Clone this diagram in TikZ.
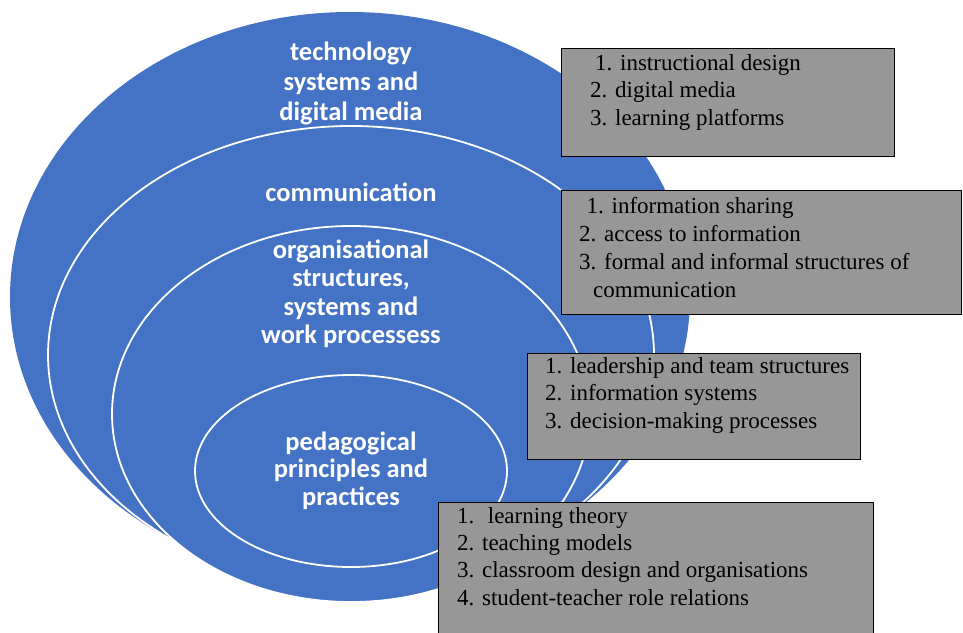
\documentclass[tikz,border=0pt]{standalone}
\usepackage{fontspec}
\setmainfont{Liberation Serif}
\newfontfamily\calfont{Carlito}
\definecolor{ringblue}{HTML}{4472C4}
\definecolor{boxgray}{HTML}{979797}
\begin{document}
\begin{tikzpicture}[x=1pt,y=-1pt,
  ring/.style={fill=ringblue, draw=white, line width=1.8pt},
  graybox/.style={draw=black, fill=boxgray, line width=1.3pt, anchor=north west, inner sep=0pt},
  ringlabel/.style={text=white, font=\calfont\bfseries\fontsize{26.5}{#1}\selectfont, align=center, anchor=base, inner sep=0pt},
  ringlabel/.default=28.5pt,
  listtext/.style={font=\fontsize{23}{#1}\selectfont, align=left, anchor=base west, inner sep=0pt},
  listtext/.default=27.4pt]
\clip (0,0) rectangle (963,632);
\fill[white] (0,0) rectangle (963,632);
% nested rings
\fill[ringblue] (350,297) ellipse [x radius=340pt, y radius=285pt];
\draw[ring] (351,355) ellipse [x radius=303pt, y radius=229pt];
\draw[ring] (351,414) ellipse [x radius=239pt, y radius=188pt];
\draw[ring] (351,471) ellipse [x radius=156pt, y radius=96pt];
% ring labels (anchor = baseline of last line)
\node[ringlabel=29.6pt] (l1) at (351,120) {technology\\systems and\\digital media};
\node[ringlabel] (l2) at (351,201.7) {communication};
\node[ringlabel=28.3pt] (l3) at (351,343.3) {organisational\\structures,\\systems and\\work processess};
\node[ringlabel=27.5pt] (l4) at (351,505) {pedagogical\\principles and\\practices};
% boxes
\node[graybox, minimum width=333pt, minimum height=108pt] (b1) at (561,48) {};
\node[graybox, minimum width=400pt, minimum height=124pt] (b2) at (561,190) {};
\node[graybox, minimum width=333pt, minimum height=106pt] (b3) at (527,353) {};
\node[graybox, minimum width=435pt, minimum height=150pt] (b4) at (438,502) {};
% box texts (anchor = baseline of last line)
\node[listtext=27.2pt] (t1) at (590,125) {\hspace*{5pt}1. instructional design\\2. digital media\\3. learning platforms};
\node[listtext=27.7pt] (t2) at (579,297) {\hspace*{7.5pt}1. information sharing\\2. access to information\\3. formal and informal structures of\\\hspace*{14pt}communication};
\node[listtext=27.5pt] (t3) at (545,428) {1. leadership and team structures\\2. information systems\\3. decision-making processes};
\node[listtext=27.3pt] (t4) at (457,605) {1.~ learning theory\\2. teaching models\\3. classroom design and organisations\\4. student-teacher role relations};
\end{tikzpicture}
\end{document}
